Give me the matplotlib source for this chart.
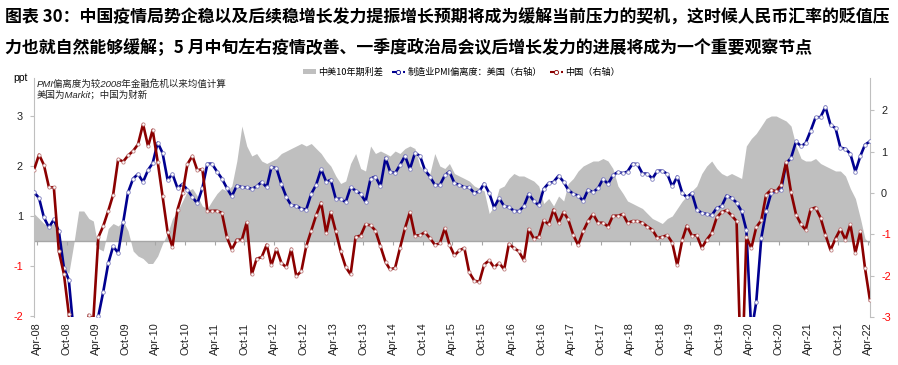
import numpy as np
import pandas as pd
import matplotlib
matplotlib.use("Agg")
import matplotlib.pyplot as plt
from matplotlib.lines import Line2D
from matplotlib.patches import Patch

plt.rcParams['font.family'] = ['Noto Sans CJK SC', 'DejaVu Sans']
plt.rcParams['axes.unicode_minus'] = False

# ---------------- data ----------------
start_month = "2008-03-01"
n_points = 170

# 中美10年期利差 (ppt, left axis), monthly estimate
spread = [0.55, 0.45, 0.35, 0.3, 0.35, 0.1, -0.55, -0.65, -0.05, 0.6,
          0.6, 0.45, 0.4, -0.15, -0.2, 0.25, 0.35, 0.3, 0.4, 0.2,
          -0.2, -0.3, -0.35, -0.45, -0.45, -0.3, -0.05, 0.15, 0.45, 0.6,
          0.8, 1.0, 1.05, 0.9, 0.7, 0.65, 0.8, 0.95, 1.05, 1.0,
          1.1, 1.6, 2.3, 1.9, 1.7, 1.75, 1.6, 1.55, 1.6, 1.65,
          1.75, 1.8, 1.85, 1.9, 1.95, 1.9, 1.95, 1.85, 1.75, 1.6,
          1.5, 1.3, 1.15, 1.2, 1.55, 1.75, 1.45, 1.4, 1.9, 1.75,
          1.8, 1.75, 1.7, 1.8, 1.75, 1.85, 1.9, 1.85, 1.5, 1.4,
          1.35, 1.75, 1.5, 1.45, 1.55, 1.35, 1.3, 1.25, 1.2, 1.1,
          1.05, 1.0, 0.55, 0.7, 1.05, 1.1, 1.25, 1.35, 1.3, 1.3,
          1.25, 1.2, 1.1, 0.75, 0.85, 0.7, 0.9, 0.8, 1.15, 1.25,
          1.4, 1.5, 1.55, 1.6, 1.6, 1.65, 1.6, 1.45, 1.1, 0.95,
          0.8, 0.75, 0.7, 0.65, 0.55, 0.45, 0.4, 0.35, 0.45, 0.5,
          0.65, 0.8, 0.9, 1.0, 1.1, 1.35, 1.5, 1.6, 1.45, 1.35,
          1.3, 1.35, 1.3, 1.25, 1.9, 2.05, 2.15, 2.3, 2.45, 2.5,
          2.5, 2.45, 2.4, 2.3, 1.9, 1.65, 1.6, 1.6, 1.65, 1.55,
          1.5, 1.45, 1.4, 1.4, 1.3, 1.05, 0.85, 0.45, 0.05, -0.05]

# 制造业PMI偏离度：美国 (right axis)
us_pmi = [0.02, -0.12, -0.59, -0.83, -0.64, -0.93, -1.81, -2.10, -3.40, -3.70,
          -3.60, -3.50, -3.30, -2.98, -2.39, -1.70, -1.29, -1.45, -0.71, 0.02,
          0.35, 0.46, 0.27, 0.56, 0.72, 1.22, 0.97, 0.32, 0.46, 0.12,
          0.22, 0.08, -0.10, -0.25, 0.12, 0.71, 0.71, 0.52, 0.35, 0.12,
          -0.08, 0.18, 0.14, 0.14, 0.10, 0.16, 0.27, 0.14, 0.63, 0.60,
          0.22, -0.10, -0.30, -0.31, -0.38, -0.40, -0.02, 0.20, 0.58, 0.27,
          0.32, -0.14, -0.14, -0.22, 0.14, 0.06, -0.02, -0.21, 0.35, 0.40,
          0.16, 0.85, 0.52, 0.48, 0.68, 0.90, 0.58, 0.97, 0.90, 0.56,
          0.40, 0.20, 0.19, 0.43, 0.52, 0.24, 0.20, 0.14, 0.14, 0.00,
          0.04, 0.23, 0.00, -0.35, -0.12, -0.32, -0.34, -0.43, -0.44, -0.32,
          -0.02, -0.19, -0.30, 0.10, 0.24, 0.27, 0.42, 0.27, 0.08, -0.02,
          -0.06, -0.19, 0.08, 0.02, 0.12, 0.34, 0.22, 0.43, 0.51, 0.48,
          0.52, 0.71, 0.70, 0.47, 0.47, 0.35, 0.54, 0.54, 0.46, 0.16,
          0.40, 0.00, -0.10, 0.00, -0.40, -0.48, -0.51, -0.54, -0.36, -0.32,
          -0.06, -0.12, -0.23, -0.44, -0.89, -3.38, -2.64, -1.09, -0.43, 0.00,
          0.04, 0.08, 0.72, 0.85, 1.25, 1.13, 1.21, 1.51, 1.83, 1.84,
          2.09, 1.65, 1.57, 1.10, 1.07, 0.95, 0.52, 0.90, 1.17, 1.25]

# 制造业PMI偏离度：中国 (right axis)
cn_pmi = [0.56, 0.93, 0.68, 0.14, 0.14, -1.41, -1.96, -2.92, -4.58, -4.47,
          -4.08, -2.95, -3.07, -1.07, -0.80, -0.43, -0.04, 0.82, 0.76, 0.91,
          1.02, 1.18, 1.67, 1.13, 1.53, 0.76, -0.08, -0.94, -1.31, -0.40,
          0.00, 0.70, 0.90, 0.55, 0.58, -0.44, -0.43, -0.43, -0.48, -1.07,
          -1.37, -1.13, -1.13, -0.71, -1.97, -1.59, -1.55, -1.25, -1.75, -1.35,
          -1.69, -1.80, -1.35, -2.01, -1.89, -1.29, -0.91, -0.54, -0.23, -0.97,
          -0.46, -0.93, -1.41, -1.79, -1.97, -1.06, -1.03, -0.76, -0.78, -0.91,
          -1.29, -1.67, -1.85, -1.81, -1.33, -0.85, -0.46, -1.03, -1.02, -0.95,
          -1.09, -1.25, -1.22, -0.85, -1.25, -1.51, -1.39, -1.33, -1.92, -2.12,
          -2.15, -1.73, -1.63, -1.80, -1.69, -1.85, -1.23, -1.33, -1.41, -1.63,
          -0.87, -1.10, -1.06, -0.66, -0.76, -0.40, -0.72, -0.46, -0.64, -1.01,
          -1.26, -0.93, -0.68, -0.51, -0.72, -0.72, -0.81, -0.55, -0.55, -0.51,
          -0.72, -0.68, -0.68, -0.72, -0.81, -0.89, -1.09, -1.06, -1.02, -1.20,
          -1.75, -1.13, -0.79, -1.03, -1.02, -1.33, -1.13, -0.97, -0.59, -0.46,
          -0.42, -0.54, -0.68, -4.82, -1.07, -1.33, -0.83, -0.66, -0.04, 0.08,
          0.04, 0.20, 0.75, 0.02, -0.52, -0.76, -0.89, -0.39, -0.35, -0.60,
          -1.01, -1.38, -1.10, -0.87, -1.13, -0.76, -1.45, -0.93, -1.81, -2.60]

left_tick_vals = [2.5, 1.5, 0.5, -0.5, -1.5]
left_tick_labels = ["3", "2", "1", "-1", "-2"]
right_tick_vals = [2, 1, 0, -1, -2, -3]
right_tick_labels = ["2", "1", "0", "-1", "-2", "-3"]

title_lines = ["图表 30：中国疫情局势企稳以及后续稳增长发力提振增长预期将成为缓解当前压力的契机，这时候人民币汇率的贬值压",
               "力也就自然能够缓解；5 月中旬左右疫情改善、一季度政治局会议后增长发力的进展将成为一个重要观察节点"]
legend_labels = ["中美10年期利差", "制造业PMI偏离度：美国（右轴）", "中国（右轴）"]
note_lines = ["PMI偏离度为较2008年金融危机以来均值计算", "美国为Markit；中国为财新"]

# ---------------- figure ----------------
dates = pd.date_range(start_month, periods=n_points, freq="MS") + pd.Timedelta(days=14)
tick_dates = pd.date_range("2008-04-01", "2022-04-01", freq="6MS")
tick_text = [d.strftime("%b-%y") for d in tick_dates]

W, H = 898, 365
fig = plt.figure(figsize=(W / 100, H / 100), dpi=100)
top_px, bot_px, left_px, right_px = 78, 317, 34, 870
ax = fig.add_axes([left_px / W, 1 - bot_px / H, (right_px - left_px) / W, (bot_px - top_px) / H])

gray = "#BFBFBF"
blue = "#000090"
red = "#8B0000"
axis_gray = "#BFBFBF"

ax.fill_between(dates, 0, spread, color=gray, lw=0, zorder=1)
ax.axhline(0, color="#A6A6A6", lw=1.0, zorder=2)
ax.vlines(tick_dates, -0.08, 0, color="#A6A6A6", lw=0.8, zorder=2)
ax.set_xlim(dates[0], dates[-1])
ax.set_ylim((241 - bot_px) / 50, (241 - top_px) / 50)

ax2 = ax.twinx()
ax2.plot(dates, us_pmi, color=blue, lw=1.9, marker="o", ms=2.6, mfc="white",
         mec="#8080C0", mew=0.6, zorder=3)
ax2.plot(dates, cn_pmi, color=red, lw=1.9, marker="o", ms=2.3, mfc="white",
         mec="#C08080", mew=0.6, zorder=4)
ax2.set_ylim(-3.0, (193.3 - top_px) / 41.4)
ax2.set_xlim(dates[0], dates[-1])

for a in (ax, ax2):
    for s in ("top", "bottom"):
        a.spines[s].set_visible(False)
ax.spines["right"].set_visible(False)
ax2.spines["left"].set_visible(False)
ax.spines["left"].set_color(axis_gray)
ax2.spines["right"].set_color(axis_gray)

tick_font = dict(family=["Liberation Sans", "DejaVu Sans"], size=7.8)
ax.set_yticks(left_tick_vals)
ax.set_yticklabels(left_tick_labels, fontdict=tick_font)
for lab, v in zip(ax.get_yticklabels(), left_tick_labels):
    lab.set_color("red" if v.startswith("-") else "#222222")
ax.tick_params(axis="y", direction="out", length=3, color=axis_gray, pad=5)

ax2.set_yticks(right_tick_vals)
ax2.set_yticklabels(right_tick_labels, fontdict=tick_font)
for lab, v in zip(ax2.get_yticklabels(), right_tick_labels):
    lab.set_color("red" if v.startswith("-") else "#222222")
ax2.tick_params(axis="y", direction="out", length=3, color=axis_gray, pad=5)

ax.set_xticks(tick_dates)
ax.set_xticklabels(tick_text, rotation=90, fontdict=tick_font)
ax.tick_params(axis="x", length=0, pad=4, colors="#222222")

# texts
fig.text(5 / W, 1 - 18 / H, title_lines[0], fontsize=12.2, fontweight="bold", va="center", ha="left")
fig.text(5 / W, 1 - 47 / H, title_lines[1], fontsize=12.2, fontweight="bold", va="center", ha="left")
fig.text(13 / W, 1 - 78 / H, "ppt", fontsize=7.5, va="center", ha="left",
         family=["Liberation Sans", "DejaVu Sans"])
note_family = ["Liberation Sans", "Noto Sans CJK SC", "DejaVu Sans"]
fig.text(37 / W, 1 - 84 / H, note_lines[0], fontsize=6.8, style="italic", va="center", ha="left",
         color="#222222", family=note_family)
fig.text(37 / W, 1 - 95 / H, note_lines[1], fontsize=6.8, style="italic", va="center", ha="left",
         color="#222222", family=note_family)

handles = [Patch(facecolor=gray, edgecolor="none"),
           Line2D([], [], color=blue, lw=1.5, ls="--", marker="o", ms=3, mfc="white", mec=blue, mew=0.6),
           Line2D([], [], color=red, lw=1.5, ls="--", marker="o", ms=3, mfc="white", mec=red, mew=0.6)]
fig.legend(handles, legend_labels, loc="center left", bbox_to_anchor=(303 / W, 1 - 72 / H),
           ncol=3, frameon=False, fontsize=6.6, handlelength=1.4, handleheight=0.45,
           handletextpad=0.3, columnspacing=0.9, borderpad=0, borderaxespad=0)

fig.savefig("out.png", dpi=100)
